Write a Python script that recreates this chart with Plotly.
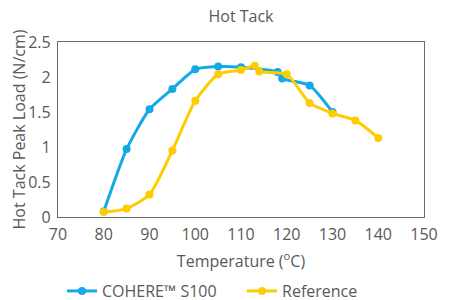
import plotly.graph_objects as go

cohere_temp = [80, 85, 90, 95, 100, 105, 110, 118, 119, 125, 130]
cohere_load = [0.08, 0.97, 1.54, 1.83, 2.11, 2.15, 2.14, 2.07, 1.98, 1.88, 1.50]

ref_temp = [80, 85, 90, 95, 100, 105, 110, 113, 114, 120, 125, 130, 135, 140]
ref_load = [0.07, 0.12, 0.32, 0.95, 1.66, 2.04, 2.10, 2.16, 2.08, 2.04, 1.63, 1.48, 1.38, 1.13]

x_ticks = [70, 80, 90, 100, 110, 120, 130, 140, 150]
y_ticks = [0, 0.5, 1, 1.5, 2, 2.5]

BLUE = "#12A9E6"
YELLOW = "#FFCC00"
TXT = "#595959"
FONT = "Open Sans"
FS = 16

fig = go.Figure()
fig.add_trace(go.Scatter(x=cohere_temp, y=cohere_load, name="COHERE™ S100",
                         mode="lines+markers", line=dict(color=BLUE, width=3, shape="spline", smoothing=0.6),
                         marker=dict(color=BLUE, size=8)))
fig.add_trace(go.Scatter(x=ref_temp, y=ref_load, name="Reference",
                         mode="lines+markers", line=dict(color=YELLOW, width=3, shape="spline", smoothing=0.6),
                         marker=dict(color=YELLOW, size=8)))

fig.update_layout(
    width=441, height=292,
    margin=dict(l=50, r=25, t=34, b=83, autoexpand=False),
    paper_bgcolor="white", plot_bgcolor="white",
    font=dict(family=FONT, size=FS, color=TXT),
    title=dict(text="Hot Tack", x=0.5, xanchor="center", y=0.972, yanchor="middle",
               xref="paper", font=dict(family=FONT, size=FS, color=TXT)),
    xaxis=dict(range=[70, 150], tickvals=x_ticks, showgrid=False, zeroline=False,
               showline=True, linecolor="#6b6b6b", linewidth=1.2, mirror=True,
               ticks="outside", ticklen=3, tickcolor="rgba(0,0,0,0)",
               tickfont=dict(size=FS, color=TXT), automargin=False,
               title=dict(text="Temperature (<sup>o</sup>C)", standoff=11,
                          font=dict(size=FS, color=TXT))),
    yaxis=dict(range=[0, 2.5], tickvals=y_ticks, showgrid=False, zeroline=False,
               showline=True, linecolor="#6b6b6b", linewidth=1.2, mirror=True,
               ticks="outside", ticklen=3, tickcolor="rgba(0,0,0,0)",
               tickfont=dict(size=FS, color=TXT), automargin=False,
               title=dict(text="Hot Tack Peak Load (N/cm)", standoff=0,
                          font=dict(size=FS, color=TXT))),
    legend=dict(orientation="h", x=0.011, xanchor="left", y=-0.423, yanchor="middle",
                font=dict(size=FS, color=TXT), itemwidth=30, traceorder="normal",
                entrywidth=135, entrywidthmode="pixels"),
    showlegend=True,
)

fig.write_html("out.html")
